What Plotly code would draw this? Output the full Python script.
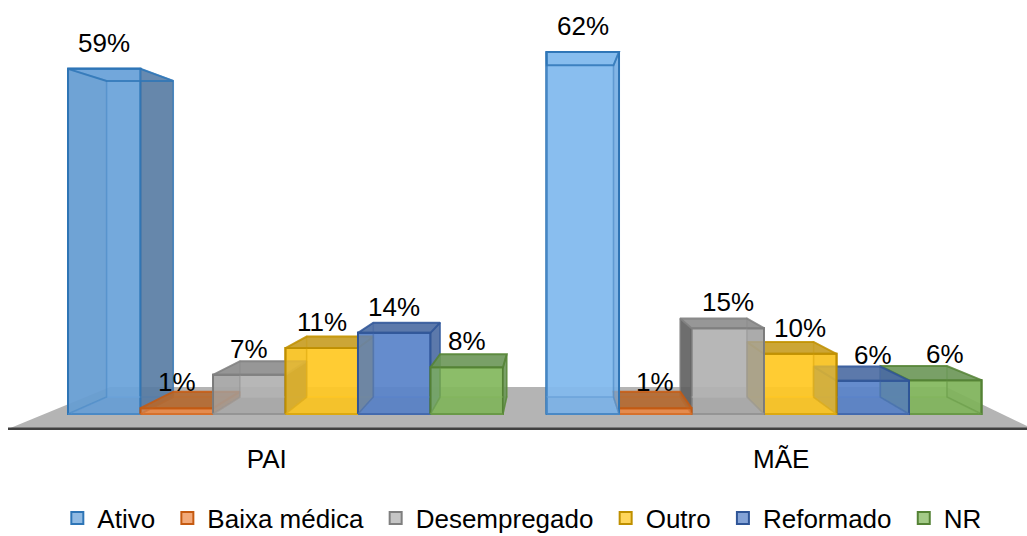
import plotly.graph_objects as go

groups = ["PAI", "MÃE"]
group_tick_positions = [-0.039, 1.036]
series = ["Ativo", "Baixa médica", "Desempregado", "Outro", "Reformado", "NR"]
pai_heights = [59.1, 1.0, 6.7, 11.3, 13.9, 8.0]
mae_heights = [62.0, 1.0, 14.7, 10.3, 5.7, 5.8]
pai_labels = ["59%", "1%", "7%", "11%", "14%", "8%"]
mae_labels = ["62%", "1%", "15%", "10%", "6%", "6%"]
front_colors = ["#6BA3DA", "#EE8C4C", "#B2B2B2", "#FFC825", "#5B84C9", "#84B85F"]
side_colors = ["#557AA2", "#B4682F", "#5E5E5E", "#C69C20", "#4A6AA2", "#6A9656"]
top_colors = ["#557AA2", "#B4682F", "#8C8C8C", "#C69C20", "#4A6AA2", "#6A9656"]
edge_colors = ["#2E75B6", "#C55A11", "#7F7F7F", "#BF9000", "#2F5597", "#548235"]

W, H = 1027, 536
PLOT_H = 430
X0_PX, GROUP_PX = 285.5, 478.5
Y0_PX, UNIT_PX = 414.0, 5.84
XR = [-X0_PX / GROUP_PX, (W - X0_PX) / GROUP_PX]
YR = [-(PLOT_H - Y0_PX) / UNIT_PX, Y0_PX / UNIT_PX]
GROUP_W = 0.909
BAR_W = GROUP_W / len(series)
VX, VY = (550 - X0_PX) / GROUP_PX, (Y0_PX - 212) / UNIT_PX
SX, SY = 0.92, 0.916


def rgba(h, a):
    return f"rgba({int(h[1:3],16)},{int(h[3:5],16)},{int(h[5:7],16)},{a})"


def back(x, y):
    return VX + (x - VX) * SX, VY + (y - VY) * SY


def face(pts, fill, a, edge, edge_a=0.75, width=2):
    xs = [p[0] for p in pts] + [pts[0][0]]
    ys = [p[1] for p in pts] + [pts[0][1]]
    return go.Scatter(x=xs, y=ys, mode="lines", fill="toself", fillcolor=rgba(fill, a),
                      line=dict(color=rgba(edge, edge_a), width=width), showlegend=False,
                      hoverinfo="skip")


fig = go.Figure()
for i, s in enumerate(series):
    colors = [front_colors[i], "#82BAEE" if i == 0 else front_colors[i]]
    fig.add_trace(go.Bar(name=s + "\u00a0", x=[0, 1], y=[pai_heights[i], mae_heights[i]],
                         marker=dict(color=[rgba(c, 0.75) for c in colors],
                                     line=dict(color=edge_colors[i], width=2)),
                         hoverinfo="skip"))

annotations = []
for g, (heights, labels) in enumerate([(pai_heights, pai_labels), (mae_heights, mae_labels)]):
    order = range(len(series)) if g == 0 else range(len(series) - 1, -1, -1)
    for i in order:
        v = heights[i]
        c = g + (i - (len(series) - 1) / 2) * BAR_W
        x1, x2 = c - BAR_W / 2, c + BAR_W / 2
        f = {"bl": (x1, 0), "br": (x2, 0), "tl": (x1, v), "tr": (x2, v)}
        b = {k: back(*p) for k, p in f.items()}
        col = "#82BAEE" if (g == 1 and i == 0) else front_colors[i]
        fig.add_trace(face([f["bl"], f["br"], f["tr"], f["tl"]], col, 0.75, edge_colors[i], 1, 2))
        fig.add_trace(face([f["bl"], f["br"], b["br"], b["bl"]], side_colors[i], 0.1, front_colors[i], 0.6, 1.5))
        fig.add_trace(face([b["bl"], b["br"], b["tr"], b["tl"]], front_colors[i], 0.0, front_colors[i], 0.6, 1.5))
        left_out = b["bl"][0] < x1 - 1e-3
        right_out = b["br"][0] > x2 + 1e-3
        fig.add_trace(face([f["bl"], f["tl"], b["tl"], b["bl"]], side_colors[i],
                           0.9 if left_out else 0.12, edge_colors[i], 0.7 if left_out else 0.3, 1.5))
        fig.add_trace(face([f["br"], f["tr"], b["tr"], b["br"]], side_colors[i],
                           0.9 if right_out else 0.12, edge_colors[i], 0.7 if right_out else 0.3, 1.5))
        from_above = b["tl"][1] > v
        fig.add_trace(face([f["tl"], f["tr"], b["tr"], b["tl"]], top_colors[i] if from_above else col,
                           0.9 if from_above else 0.15, edge_colors[i], 0.8, 2))
        annotations.append(dict(x=c, y=v, text=labels[i], showarrow=False, yanchor="middle",
                                yshift=26, font=dict(size=26, color="#000000")))

fig.update_layout(
    width=W, height=H, autosize=False,
    margin=dict(l=0, r=0, t=0, b=H - PLOT_H, autoexpand=False),
    paper_bgcolor="white", plot_bgcolor="rgba(0,0,0,0)",
    barmode="group", bargap=1 - GROUP_W, bargroupgap=0,
    font=dict(family="Liberation Sans, Arial, sans-serif", size=26, color="#000000"),
    xaxis=dict(range=XR, tickmode="array", tickvals=group_tick_positions, ticktext=groups, showgrid=False,
               zeroline=False, showline=False, ticks="outside", ticklen=6, automargin=False,
               tickcolor="rgba(0,0,0,0)", tickfont=dict(size=26)),
    yaxis=dict(range=YR, visible=False, showgrid=False, zeroline=False),
    legend=dict(orientation="h", x=0.512, xanchor="center", y=-0.205, yanchor="middle",
                font=dict(size=26), bgcolor="rgba(0,0,0,0)", traceorder="normal"),
    annotations=annotations,
)


def to_x(px):
    return (px - X0_PX) / GROUP_PX


def to_y(py):
    return (Y0_PX - py) / UNIT_PX


floor_px = [(8, 429), (110, 387), (946, 387), (1027, 426), (1027, 429)]
path = "M" + " L".join(f"{to_x(x)},{to_y(y)}" for x, y in floor_px) + " Z"
fig.add_shape(type="path", path=path, layer="below", line_width=0, fillcolor="#B4B4B4")
fig.add_shape(type="line", x0=to_x(8), x1=to_x(1027), y0=to_y(429.5), y1=to_y(429.5), layer="below",
              line=dict(color="#404040", width=4))

fig.write_html("out.html", config={"displayModeBar": False},
               post_script="document.body.style.margin='0';")
